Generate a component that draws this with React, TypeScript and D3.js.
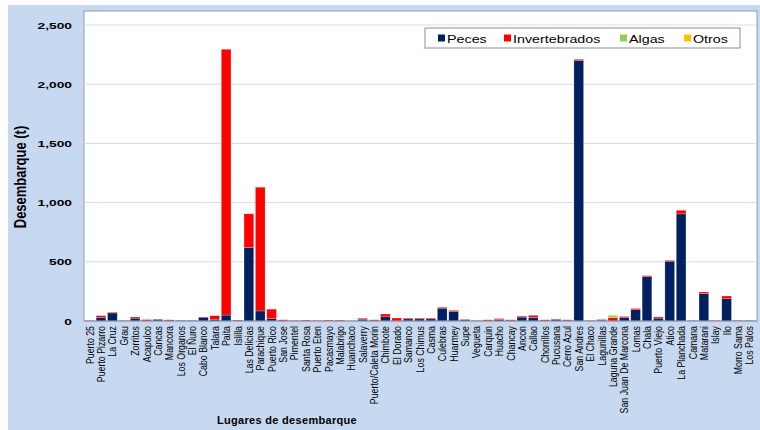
import React, { useRef, useEffect } from 'react';
import * as d3 from 'd3';

const categories = [
  'Puerto 25', 'Puerto Pizarro', 'La Cruz', 'Grau', 'Zorritos', 'Acapulco', 'Cancas', 'Mancora',
  'Los Organos', 'El Ñuro', 'Cabo Blanco', 'Talara', 'Paita', 'Islilla', 'Las Delicias', 'Parachique',
  'Puerto Rico', 'San Jose', 'Pimentel', 'Santa Rosa', 'Puerto Eten', 'Pacasmayo', 'Malabrigo',
  'Huanchaco', 'Salaverry', 'Puerto/Caleta Morin', 'Chimbote', 'El Dorado', 'Samanco', 'Los Chimus',
  'Casma', 'Culebras', 'Huarmey', 'Supe', 'Vegueta', 'Carquin', 'Huacho', 'Chancay', 'Ancon', 'Callao',
  'Chorrillos', 'Pucusana', 'Cerro Azul', 'San Andres', 'El Chaco', 'Lagunillas', 'Laguna Grande',
  'San Juan De Marcona', 'Lomas', 'Chala', 'Puerto Viejo', 'Atico', 'La Planchada', 'Camana',
  'Matarani', 'Islay', 'Ilo', 'Morro Sama', 'Los Palos',
];

const peces = [
  0, 30, 68, 0, 24, 0, 14, 0, 5, 5, 32, 15, 50, 0, 620, 85,
  20, 0, 0, 0, 0, 0, 0, 0, 15, 0, 36, 0, 18, 18,
  18, 108, 82, 10, 0, 0, 12, 0, 33, 30,
  0, 12, 0, 2200, 0, 8, 0,
  28, 95, 375, 24, 505, 905, 4,
  232, 0, 188, 0, 4,
];

const invertebrados = [
  5, 15, 6, 5, 10, 12, 2, 10, 0, 0, 2, 30, 2245, 8, 285, 1045,
  80, 10, 5, 8, 6, 8, 8, 0, 8, 10, 23, 25, 7, 7,
  7, 8, 8, 5, 5, 10, 8, 10, 8, 18,
  10, 5, 10, 10, 5, 5, 28,
  10, 10, 8, 10, 7, 30, 0,
  13, 6, 23, 6, 0,
];

const algas = [
  0, 0, 0, 0, 0, 0, 0, 0, 0, 0, 0, 0, 0, 0, 0, 0,
  0, 0, 0, 0, 0, 0, 0, 8, 0, 0, 0, 0, 0, 0,
  0, 0, 0, 0, 0, 0, 0, 0, 0, 0,
  0, 0, 0, 0, 0, 0, 20,
  0, 0, 0, 0, 0, 0, 0,
  0, 0, 0, 0, 0,
];

const otros = [
  0, 0, 0, 0, 0, 0, 0, 0, 0, 0, 0, 0, 0, 0, 0, 0,
  0, 0, 0, 0, 0, 0, 0, 0, 0, 0, 0, 0, 0, 0,
  0, 0, 0, 0, 0, 0, 0, 0, 0, 0,
  0, 0, 0, 0, 0, 0, 0,
  0, 0, 0, 0, 0, 0, 0,
  0, 0, 0, 0, 0,
];

const seriesKeys = ['peces', 'invertebrados', 'algas', 'otros'];
const seriesNames = ['Peces', 'Invertebrados', 'Algas', 'Otros'];
const seriesColors = ['#002060', '#FF0000', '#92D050', '#FFC000'];
const yTicks = [0, 500, 1000, 1500, 2000, 2500];

const FONT = '"Liberation Sans", Arial, sans-serif';

const App: React.FC = () => {
  const svgRef = useRef<SVGSVGElement | null>(null);

  useEffect(() => {
    if (!svgRef.current) return;
    const svg = d3.select(svgRef.current);
    svg.selectAll('*').remove();

    const W = 760, H = 430;
    const left = 84, right = 757, top = 11, bottom = 321;

    const rows = categories.map((c, i) => ({
      label: c,
      peces: peces[i],
      invertebrados: invertebrados[i],
      algas: algas[i],
      otros: otros[i],
    }));

    const x = d3.scaleBand()
      .domain(categories)
      .range([left, 755])
      .paddingInner(0.15)
      .paddingOuter(0.07);

    const y = d3.scaleLinear()
      .domain([0, 2500])
      .range([bottom, 25]);

    // fondo
    svg.append('rect')
      .attr('x', 8).attr('y', 5).attr('width', W - 8).attr('height', H - 5)
      .attr('fill', '#C6D9F0');

    svg.append('rect')
      .attr('x', left).attr('y', top).attr('width', right - left).attr('height', bottom - top)
      .attr('fill', '#ffffff')
      .attr('stroke', '#8E9BB3')
      .attr('stroke-width', 1);

    // grid
    svg.append('g')
      .selectAll('line')
      .data(yTicks.filter(t => t > 0))
      .enter()
      .append('line')
      .attr('x1', left).attr('x2', right)
      .attr('y1', d => y(d)).attr('y2', d => y(d))
      .attr('stroke', '#D9D9E3')
      .attr('stroke-width', 1);

    const stack = d3.stack<any>().keys(seriesKeys);
    const stacked = stack(rows);

    const barsG = svg.append('g');
    stacked.forEach((layer, li) => {
      barsG.append('g')
        .selectAll('rect')
        .data(layer.filter(d => d[1] - d[0] > 0))
        .enter()
        .append('rect')
        .attr('x', d => x(d.data.label) || 0)
        .attr('y', d => y(d[1]))
        .attr('width', x.bandwidth())
        .attr('height', d => y(d[0]) - y(d[1]))
        .attr('fill', seriesColors[li])
        .attr('stroke', '#ffffff')
        .attr('stroke-opacity', 0.35)
        .attr('stroke-width', 0.6);
    });

    // eje x
    svg.append('line')
      .attr('x1', left).attr('x2', right)
      .attr('y1', bottom).attr('y2', bottom)
      .attr('stroke', '#8E9BB3');

    // etiquetas eje y
    svg.append('g')
      .selectAll('text')
      .data(yTicks)
      .enter()
      .append('text')
      .attr('transform', d => `translate(72, ${y(d) + 3.5}) scale(1.45, 1)`)
      .attr('text-anchor', 'end')
      .style('font-family', FONT)
      .style('font-size', '9.5px')
      .style('font-weight', 'bold')
      .attr('fill', '#000')
      .text(d => d3.format(',')(d));

    // etiquetas eje x
    svg.append('g')
      .selectAll('text')
      .data(categories)
      .enter()
      .append('text')
      .attr('transform', d => `translate(${(x(d) || 0) + x.bandwidth() / 2}, 326) scale(1.3, 1) rotate(-90)`)
      .attr('text-anchor', 'end')
      .attr('dy', '0.35em')
      .style('font-family', FONT)
      .style('font-size', '8.8px')
      .attr('fill', '#000')
      .text(d => d);

    // títulos
    svg.append('text')
      .attr('transform', 'translate(26, 177) scale(1.2, 1) rotate(-90)')
      .attr('text-anchor', 'middle')
      .style('font-family', FONT)
      .style('font-size', '13px')
      .style('font-weight', 'bold')
      .text('Desembarque (t)');

    svg.append('text')
      .attr('x', 287).attr('y', 424)
      .attr('text-anchor', 'middle')
      .style('font-family', FONT)
      .style('font-size', '11px')
      .style('font-weight', 'bold')
      .style('letter-spacing', '0.3px')
      .text('Lugares de desembarque');

    // leyenda
    const lg = svg.append('g');
    lg.append('rect')
      .attr('x', 425).attr('y', 28).attr('width', 315).attr('height', 20)
      .attr('fill', '#ffffff')
      .attr('stroke', '#7F8FA9');

    const legendX = [438, 504, 620, 684];
    seriesNames.forEach((name, i) => {
      lg.append('rect')
        .attr('x', legendX[i]).attr('y', 34.5).attr('width', 7).attr('height', 7)
        .attr('fill', seriesColors[i]);
      lg.append('text')
        .attr('transform', `translate(${legendX[i] + 9}, 42.5) scale(1.3, 1)`)
        .style('font-family', FONT)
        .style('font-size', '11px')
        .attr('fill', '#000')
        .text(name);
    });
  }, []);

  return (
    <div style={{ position: 'fixed', left: 0, top: 0, width: 760, height: 430, background: '#fff' }}>
      <svg ref={svgRef} width={760} height={430}></svg>
    </div>
  );
};

export default App;
